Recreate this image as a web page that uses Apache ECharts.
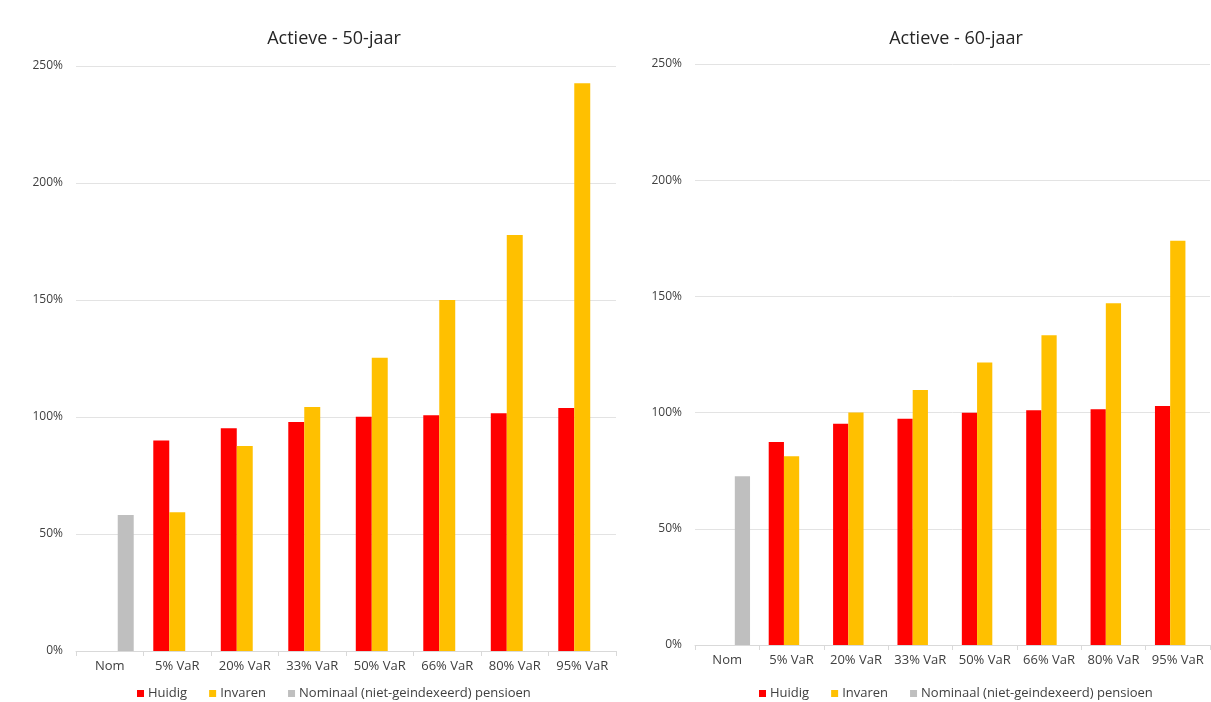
<!DOCTYPE html>
<html>
<head>
<meta charset="utf-8">
<script src="https://cdn.jsdelivr.net/npm/echarts@6/dist/echarts.min.js"></script>
<style>
  html, body { margin: 0; padding: 0; background: #ffffff; }
  #chart { width: 1211px; height: 702px; }
</style>
</head>
<body>
<div id="chart"></div>
<script>
// Scenario categories shared by both panels
const categories = ['Nom', '5% VaR', '20% VaR', '33% VaR', '50% VaR', '66% VaR', '80% VaR', '95% VaR'];

// Actieve - 50-jaar (percent)
const huidig50   = [null, 90, 95.2, 97.9, 100.1, 100.7, 101.6, 103.8];
const invaren50  = [null, 59.3, 87.6, 104.3, 125.3, 150, 177.8, 242.6];
const nominaal50 = [58.1, null, null, null, null, null, null, null];

// Actieve - 60-jaar (percent)
const huidig60   = [null, 87.3, 95.2, 97.3, 99.9, 101, 101.4, 102.8];
const invaren60  = [null, 81.2, 100, 109.7, 121.6, 133.3, 147, 173.9];
const nominaal60 = [72.6, null, null, null, null, null, null, null];

const titles = ['Actieve - 50-jaar', 'Actieve - 60-jaar'];
const yTicks = { min: 0, max: 250, interval: 50 };

const FONT = '"Open Sans"';
const TXT = '#404040';
const RED = '#FF0000', YEL = '#FFC000', GRY = '#BFBFBF';

const legendNames = ['Huidig', 'Invaren', 'Nominaal (niet-geindexeerd) pensioen'];

function xAxis(gridIndex) {
  return {
    type: 'category', gridIndex, data: categories,
    axisLine: { lineStyle: { color: '#d9d9d9', width: 1 } },
    axisTick: { show: true, interval: 0, length: 5, lineStyle: { color: '#d9d9d9' } },
    axisLabel: { interval: 0, hideOverlap: false, color: TXT, fontFamily: FONT, fontSize: 13, margin: 9 }
  };
}
function yAxis(gridIndex) {
  return {
    type: 'value', gridIndex, min: yTicks.min, max: yTicks.max, interval: yTicks.interval,
    axisLine: { show: false }, axisTick: { show: false },
    splitLine: { lineStyle: { color: '#e3e3e3', width: 1 } },
    axisLabel: { color: TXT, fontFamily: FONT, fontSize: 12, margin: 13, formatter: '{value}%' }
  };
}
function bars(name, data, color, idx) {
  return {
    name, type: 'bar', data, xAxisIndex: idx, yAxisIndex: idx,
    itemStyle: { color }, barGap: '0%', barCategoryGap: '29%',
    emphasis: { disabled: true }
  };
}
function legend(left) {
  return {
    data: legendNames, left, top: 682, itemWidth: 7, itemHeight: 7, itemGap: 22,
    icon: 'rect', selectedMode: false,
    textStyle: { color: TXT, fontFamily: FONT, fontSize: 13, padding: [0, 0, 0, -1] }
  };
}

const chart = echarts.init(document.getElementById('chart'), null, { renderer: 'canvas' });
chart.setOption({
  animation: false,
  backgroundColor: '#ffffff',
  title: [
    { text: titles[0], left: 329, top: 25, textAlign: 'center',
      textStyle: { color: '#262626', fontFamily: FONT, fontSize: 18, fontWeight: 'normal' } },
    { text: titles[1], left: 951, top: 25, textAlign: 'center',
      textStyle: { color: '#262626', fontFamily: FONT, fontSize: 18, fontWeight: 'normal' } }
  ],
  legend: [legend(132), legend(754)],
  grid: [
    { left: 76, right: 595, top: 66, bottom: 51 },
    { left: 695, right: 1, top: 64, bottom: 57 }
  ],
  xAxis: [xAxis(0), xAxis(1)],
  yAxis: [yAxis(0), yAxis(1)],
  series: [
    bars('Huidig', huidig50, RED, 0),
    bars('Invaren', invaren50, YEL, 0),
    bars('Nominaal (niet-geindexeerd) pensioen', nominaal50, GRY, 0),
    bars('Huidig', huidig60, RED, 1),
    bars('Invaren', invaren60, YEL, 1),
    bars('Nominaal (niet-geindexeerd) pensioen', nominaal60, GRY, 1)
  ]
});
</script>
</body>
</html>
